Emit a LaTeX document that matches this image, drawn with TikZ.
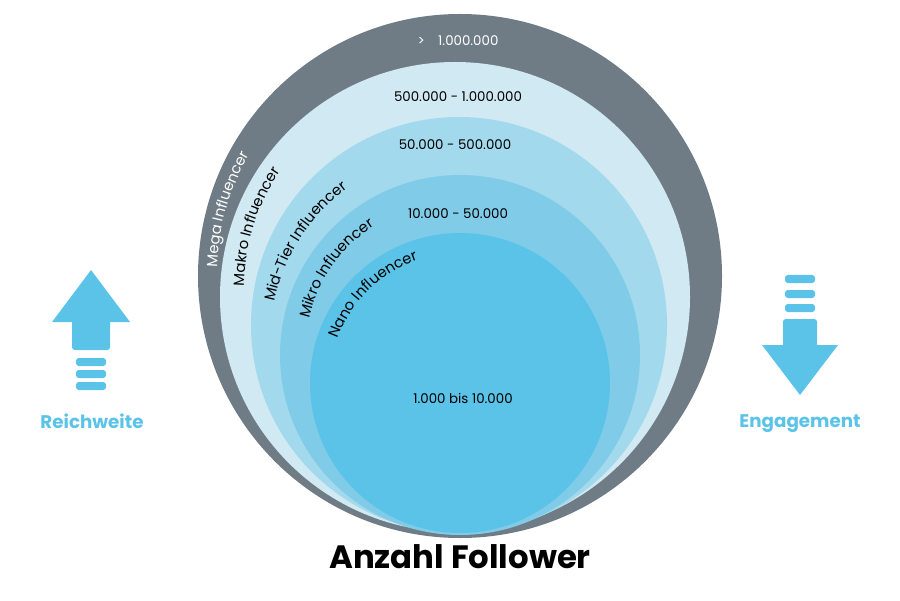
\documentclass[tikz,border=0pt]{standalone}
\usepackage{fontspec}
\setmainfont{Poppins}
\usetikzlibrary{decorations.text}
\definecolor{ringgray}{HTML}{6F7C85}
\definecolor{ringa}{HTML}{D0E9F2}
\definecolor{ringb}{HTML}{A3D9EC}
\definecolor{ringc}{HTML}{7FCBE8}
\definecolor{ringd}{HTML}{5BC3E8}
\tikzset{
  lbl/.style={font=\fontsize{9.5}{11}\selectfont},
  ringtext/.style={decorate,decoration={text along path,text align=center,
    text={#1}}},
  bar/.style={fill=ringd,rounded corners=2pt},
}
\begin{document}
\begin{tikzpicture}[x=0.025cm,y=0.025cm]
\useasboundingbox (0,0) rectangle (900,600);
\fill[ringgray] (460,324) circle[radius=262];
\fill[ringa] (455,303) circle[radius=235];
\fill[ringb] (459,275) circle[radius=208];
\fill[ringc] (460,245) circle[radius=180];
\fill[ringd] (460,217) circle[radius=150];

\path[ringtext={|\fontsize{10.5}{12}\selectfont\color{white}|Mega Influencer}]
  (460,324) ++(183:243) arc[start angle=183,end angle=145,radius=243];
\path[ringtext={|\fontsize{10.5}{12}\selectfont|Makro Influencer}]
  (457,310) ++(185:213) arc[start angle=185,end angle=140,radius=213];
\path[ringtext={|\fontsize{10.5}{12}\selectfont|Mid-Tier Influencer}]
  (460,260) ++(175:189) arc[start angle=175,end angle=120,radius=189];
\path[ringtext={|\fontsize{10.5}{12}\selectfont|Mikro Influencer}]
  (460,245) ++(177:155) arc[start angle=177,end angle=113,radius=155];
\path[ringtext={|\fontsize{10.5}{12}\selectfont|Nano Influencer}]
  (460,217) ++(173:130) arc[start angle=173,end angle=96,radius=130];

\node[lbl,text=white] (mega) at (458,559) {>\quad 1.000.000};
\node[lbl] (makro) at (458,503) {500.000 - 1.000.000};
\node[lbl] (mid) at (455,455) {50.000 - 500.000};
\node[lbl] (mikro) at (458,386) {10.000 - 50.000};
\node[lbl] (nano) at (463,202) {1.000 bis 10.000};

% Reichweite
\fill[ringd] (52,278) -- (91,330) -- (130,278) -- cycle;
\fill[bar] (72,280) rectangle (110,250);
\foreach \y in {242,230,218}
  \fill[bar] (76,\y) rectangle (106,\y-8);
\node[text=ringd,font=\bfseries\fontsize{13}{15}\selectfont] (reich) at (92,179) {Reichweite};

% Engagement
\foreach \y in {325,310,296}
  \fill[bar] (785,\y) rectangle (815,\y-8);
\fill[bar] (783,281) rectangle (817,252);
\fill[ringd] (762,255) -- (800,205) -- (838,255) -- cycle;
\node[text=ringd,font=\bfseries\fontsize{13}{15}\selectfont] (eng) at (800,176) {Engagement};

\node[font=\bfseries\fontsize{23}{27}\selectfont] (title) at (460,43) {Anzahl Follower};
\end{tikzpicture}
\end{document}
